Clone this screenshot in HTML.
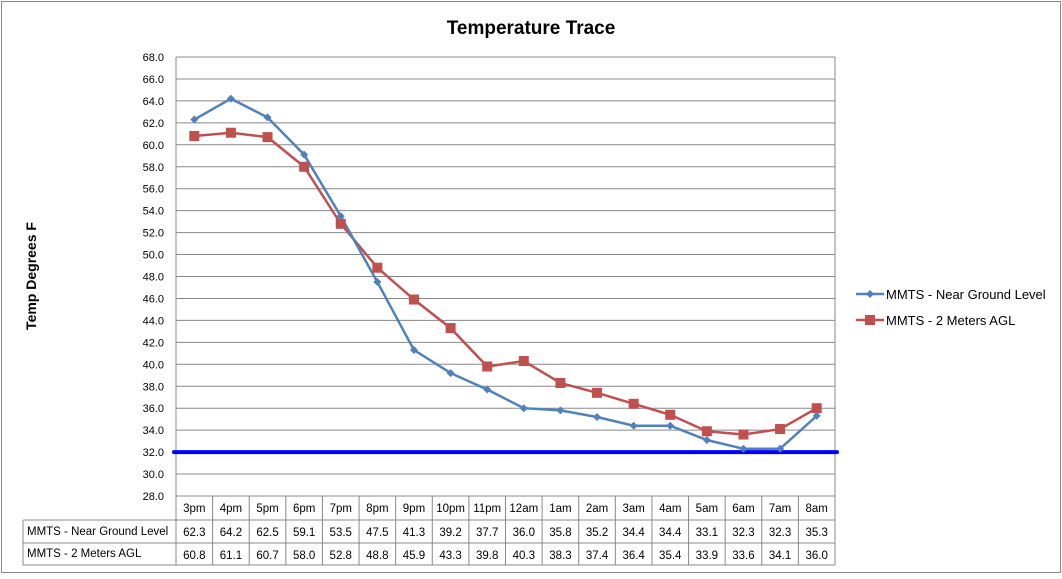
<!DOCTYPE html>
<html><head><meta charset="utf-8"><style>
body{margin:0;background:#fff;font-family:"Liberation Sans",sans-serif}
</style></head><body>
<svg id="c" width="1062" height="574" xmlns="http://www.w3.org/2000/svg" font-family="Liberation Sans, sans-serif">
<rect x="1.5" y="1.5" width="1059" height="571" fill="#fff" stroke="#888"/>
<text x="531" y="34" text-anchor="middle" font-size="19" font-weight="bold">Temperature Trace</text>
<text transform="translate(36,276) rotate(-90)" text-anchor="middle" font-size="14" font-weight="bold">Temp Degrees F</text>
<g id="grid"></g><g id="tbl"></g><g id="series"></g>
<g>
<line x1="856" y1="294" x2="884" y2="294" stroke="#4f81bd" stroke-width="2.5"/>
<path d="M870 290 L874 294 L870 298 L866 294Z" fill="#4f81bd"/>
<text x="886" y="299" font-size="13">MMTS - Near Ground Level</text>
<line x1="856" y1="320" x2="884" y2="320" stroke="#c0504d" stroke-width="2.5"/>
<rect x="865" y="315" width="10" height="10" fill="#c0504d"/>
<text x="886" y="325" font-size="13">MMTS - 2 Meters AGL</text>
</g>
</svg>
<script>
const categories=["3pm","4pm","5pm","6pm","7pm","8pm","9pm","10pm","11pm","12am","1am","2am","3am","4am","5am","6am","7am","8am"];
const nearGround=[62.3,64.2,62.5,59.1,53.5,47.5,41.3,39.2,37.7,36.0,35.8,35.2,34.4,34.4,33.1,32.3,32.3,35.3];
const twoMeters=[60.8,61.1,60.7,58.0,52.8,48.8,45.9,43.3,39.8,40.3,38.3,37.4,36.4,35.4,33.9,33.6,34.1,36.0];
const yTicks=[28,30,32,34,36,38,40,42,44,46,48,50,52,54,56,58,60,62,64,66,68];
const threshold=32;
const NS="http://www.w3.org/2000/svg";
const L=176,R=835,T=57,B=496,yMin=28,yMax=68;
const cw=(R-L)/categories.length;
const xs=i=>L+cw*(i+0.5);
const ys=v=>B-(v-yMin)/(yMax-yMin)*(B-T);
function mk(p,t,a){const e=document.createElementNS(NS,t);for(const k in a)e.setAttribute(k,a[k]);p.appendChild(e);return e;}
const grid=document.getElementById('grid'),tbl=document.getElementById('tbl'),ser=document.getElementById('series');
yTicks.forEach(v=>{
 const l=mk(grid,'line',{x1:L,x2:R,y1:ys(v),y2:ys(v),stroke:'#888','stroke-width':1});
 
 
 const t=mk(grid,'text',{x:L-12,y:ys(v)+4,'text-anchor':'end','font-size':11});
 t.textContent=v.toFixed(1);
 
 
});
mk(grid,'line',{x1:L,x2:L,y1:T,y2:B,stroke:'#888'});
mk(grid,'line',{x1:R,x2:R,y1:T,y2:B,stroke:'#888'});
// table
const r0=496,r1=520,r2=543,r3=565,TL=23;
[[L,R,r0],[TL,R,r1],[TL,R,r2],[TL,R,r3]].forEach(a=>mk(tbl,'line',{x1:a[0],x2:a[1],y1:a[2],y2:a[2],stroke:'#888'}));
mk(tbl,'line',{x1:TL,x2:TL,y1:r1,y2:r3,stroke:'#888'});
for(let i=0;i<=categories.length;i++)mk(tbl,'line',{x1:L+cw*i,x2:L+cw*i,y1:r0,y2:r3,stroke:'#888'});
const lab1=mk(tbl,'text',{x:TL+4,y:r1+15,'font-size':11.5});lab1.textContent='MMTS - Near Ground Level';


const lab2=mk(tbl,'text',{x:TL+4,y:r2+14,'font-size':11.5});lab2.textContent='MMTS - 2 Meters AGL';


categories.forEach((c,i)=>{
 const t=mk(tbl,'text',{x:xs(i),y:r0+16,'text-anchor':'middle','font-size':11.5});t.textContent=c;
 
 
 const a=mk(tbl,'text',{x:xs(i),y:r1+16,'text-anchor':'middle','font-size':11.5});a.textContent=nearGround[i].toFixed(1);
 
 
 const b=mk(tbl,'text',{x:xs(i),y:r2+16,'text-anchor':'middle','font-size':11.5});b.textContent=twoMeters[i].toFixed(1);
 
 
});
// threshold
const th=mk(ser,'line',{x1:L-2,x2:R+2,y1:ys(threshold),y2:ys(threshold),stroke:'#0000ff','stroke-width':4,'stroke-linecap':'round'});


function line(vals,col,name){
 const p=mk(ser,'polyline',{points:vals.map((v,i)=>xs(i)+','+ys(v)).join(' '),fill:'none',stroke:col,'stroke-width':2.5});
 
 
}
line(twoMeters,'#c0504d','two-meters');
line(nearGround,'#4f81bd','near-ground');
twoMeters.forEach((v,i)=>{
 const r=mk(ser,'rect',{x:xs(i)-5,y:ys(v)-5,width:10,height:10,fill:'#c0504d'});
 
 
});
nearGround.forEach((v,i)=>{
 const x=xs(i),y=ys(v);
 const d=mk(ser,'path',{d:`M${x} ${y-4}L${x+4} ${y}L${x} ${y+4}L${x-4} ${y}Z`,fill:'#4f81bd'});
 
 
});
</script>
</body></html>
